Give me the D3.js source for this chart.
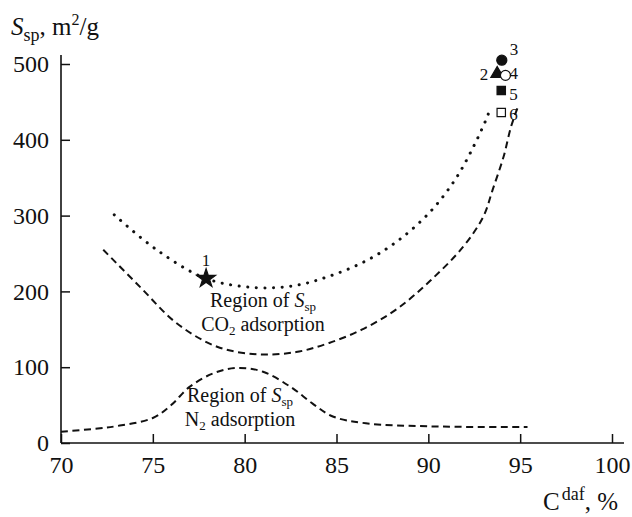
<!DOCTYPE html>
<html>
<head>
<meta charset="utf-8">
<script src="https://cdn.jsdelivr.net/npm/d3@7"></script>
<style>
  body { margin: 0; background: #fff; font-family: "Liberation Serif", "DejaVu Serif", serif; }
  svg text { font-family: "Liberation Serif", "DejaVu Serif", serif; }
  .tick text { font-size: 24px; fill: #111; }
  .tick line { stroke: #111; stroke-width: 1.5; }
  .label { font-size: 20px; fill: #111; }
  .num { font-size: 17px; fill: #111; }
</style>
</head>
<body>
<div id="chart"></div>
<script>
// upper boundary of CO2 region (dotted)
const co2UpperX = [72.9, 75.2, 77.9, 80.6, 82.8, 84.6, 86.5, 88.3, 90.1, 91.5, 92.5, 93.2, 93.4];
const co2UpperY = [301, 255, 217, 205, 208, 220, 239, 266, 305, 349, 393, 430, 444];

// lower boundary of CO2 region (dashed)
const co2LowerX = [72.3, 74.3, 76.3, 78.5, 80.7, 82.8, 84.6, 86.5, 88.3, 90.1, 91.9, 93.0, 93.5, 94.1, 94.5, 94.9];
const co2LowerY = [255, 206, 158, 127, 117, 120, 132, 151, 177, 214, 259, 299, 334, 378, 417, 445];

// N2 region (dashed)
const n2X = [70, 72, 73.2, 75, 76, 77, 78.3, 79.6, 81, 82.5, 83.7, 84.8, 86.6, 90, 95.4];
const n2Y = [15, 19, 23, 33, 50, 74, 92, 99, 94, 74, 52, 35, 26, 22, 21];

// samples
const sampleIds = ["1", "2", "3", "4", "5", "6"];
const sampleX = [77.9, 93.75, 94.0, 94.2, 93.97, 93.97];
const sampleY = [217, 487, 505, 485, 465, 436];
const sampleShape = ["star", "triangle", "circle", "circle", "square", "square"];
const sampleFilled = [true, true, true, false, true, false];

const xTicks = [70, 75, 80, 85, 90, 95, 100];
const yTicks = [0, 100, 200, 300, 400, 500];

const width = 632, height = 517;

const x = d3.scaleLinear().domain([70, 100]).range([61, 612]);
const y = d3.scaleLinear().domain([0, 500]).range([443, 64]);

const svg = d3.select("#chart").append("svg")
    .attr("width", width)
    .attr("height", height);

// axes
svg.append("g")
    .attr("transform", "translate(0," + y(0) + ")")
    .call(d3.axisBottom(x).tickValues(xTicks).tickSizeInner(-9).tickSizeOuter(0).tickPadding(13))
    .attr("font-family", null).attr("font-size", null)
    .call(g => g.select(".domain").remove());

svg.append("g")
    .attr("transform", "translate(" + x(70) + ",0)")
    .call(d3.axisLeft(y).tickValues(yTicks).tickSizeInner(-9).tickSizeOuter(0).tickPadding(12))
    .attr("font-family", null).attr("font-size", null)
    .call(g => g.select(".domain").remove());

svg.append("line")
    .attr("x1", x(70)).attr("x2", x(100) + 12)
    .attr("y1", y(0)).attr("y2", y(0))
    .attr("stroke", "#111").attr("stroke-width", 1.6);

svg.append("line")
    .attr("x1", x(70)).attr("x2", x(70))
    .attr("y1", y(0)).attr("y2", y(500) - 9)
    .attr("stroke", "#111").attr("stroke-width", 1.6);

// axis titles
const yTitle = svg.append("text").attr("x", 11).attr("y", 35).style("font-size", "25px").attr("fill", "#111");
yTitle.append("tspan").style("font-style", "italic").text("S");
yTitle.append("tspan").attr("dy", 6).style("font-size", "18px").text("sp");
yTitle.append("tspan").attr("dy", -6).text(", m");
yTitle.append("tspan").attr("dy", -10).style("font-size", "16px").text("2");
yTitle.append("tspan").attr("dy", 10).text("/g");

const xTitle = svg.append("text").attr("x", 543).attr("y", 510).style("font-size", "25px").attr("fill", "#111");
xTitle.append("tspan").text("C");
xTitle.append("tspan").attr("dy", -10).attr("dx", 2).style("font-size", "18px").text("daf");
xTitle.append("tspan").attr("dy", 10).text(", %");

// curves
const line = d3.line().curve(d3.curveCatmullRom.alpha(0.5));
const pts = (xs, ys) => xs.map((d, i) => [x(d), y(ys[i])]);

svg.append("path")
    .attr("d", line(pts(co2UpperX, co2UpperY)))
    .attr("fill", "none").attr("stroke", "#111")
    .attr("stroke-width", 3).attr("stroke-linecap", "round")
    .attr("stroke-dasharray", "0.1,8.5");

svg.append("path")
    .attr("d", line(pts(co2LowerX, co2LowerY)))
    .attr("fill", "none").attr("stroke", "#111")
    .attr("stroke-width", 2).attr("stroke-dasharray", "7,4.5");

svg.append("path")
    .attr("d", line(pts(n2X, n2Y)))
    .attr("fill", "none").attr("stroke", "#111")
    .attr("stroke-width", 2).attr("stroke-dasharray", "7,4.5");

// region labels, two lines each
function regionLabel(cx, by, second, sub) {
  const t1 = svg.append("text").attr("class", "label").attr("x", cx).attr("y", by).attr("text-anchor", "middle");
  t1.append("tspan").text("Region of ");
  t1.append("tspan").style("font-style", "italic").text("S");
  t1.append("tspan").attr("dy", 4).style("font-size", "13px").text("sp");
  const t2 = svg.append("text").attr("class", "label").attr("x", cx).attr("y", by + 24).attr("text-anchor", "middle");
  t2.append("tspan").text(second);
  t2.append("tspan").attr("dy", 4).style("font-size", "13px").text(sub);
  t2.append("tspan").attr("dy", -4).text(" adsorption");
}
regionLabel(263, 307, "CO", "2");
regionLabel(240, 402, "N", "2");

// sample markers
const symType = { star: d3.symbolStar, triangle: d3.symbolTriangle, circle: d3.symbolCircle, square: d3.symbolSquare };
const symSize = { star: 110, triangle: 70, circle: 80, square: 70 };

svg.append("g").selectAll("path")
  .data(sampleIds)
  .join("path")
    .attr("transform", (d, i) => "translate(" + x(sampleX[i]) + "," + y(sampleY[i]) + ")")
    .attr("d", (d, i) => d3.symbol(symType[sampleShape[i]], symSize[sampleShape[i]])())
    .attr("fill", (d, i) => sampleFilled[i] ? "#111" : "#fff")
    .attr("stroke", "#111").attr("stroke-width", 1.2);

// sample numbers
const numOffset = { "1": [0, -13, "middle"], "2": [-9, 6, "end"], "3": [8, -5, "start"], "4": [4, 4, "start"], "5": [8, 9, "start"], "6": [8, 7, "start"] };
svg.append("g").selectAll("text")
  .data(sampleIds)
  .join("text")
    .attr("class", "num")
    .attr("x", (d, i) => x(sampleX[i]) + numOffset[d][0])
    .attr("y", (d, i) => y(sampleY[i]) + numOffset[d][1])
    .attr("text-anchor", d => numOffset[d][2])
    .text(d => d);
</script>
</body>
</html>
